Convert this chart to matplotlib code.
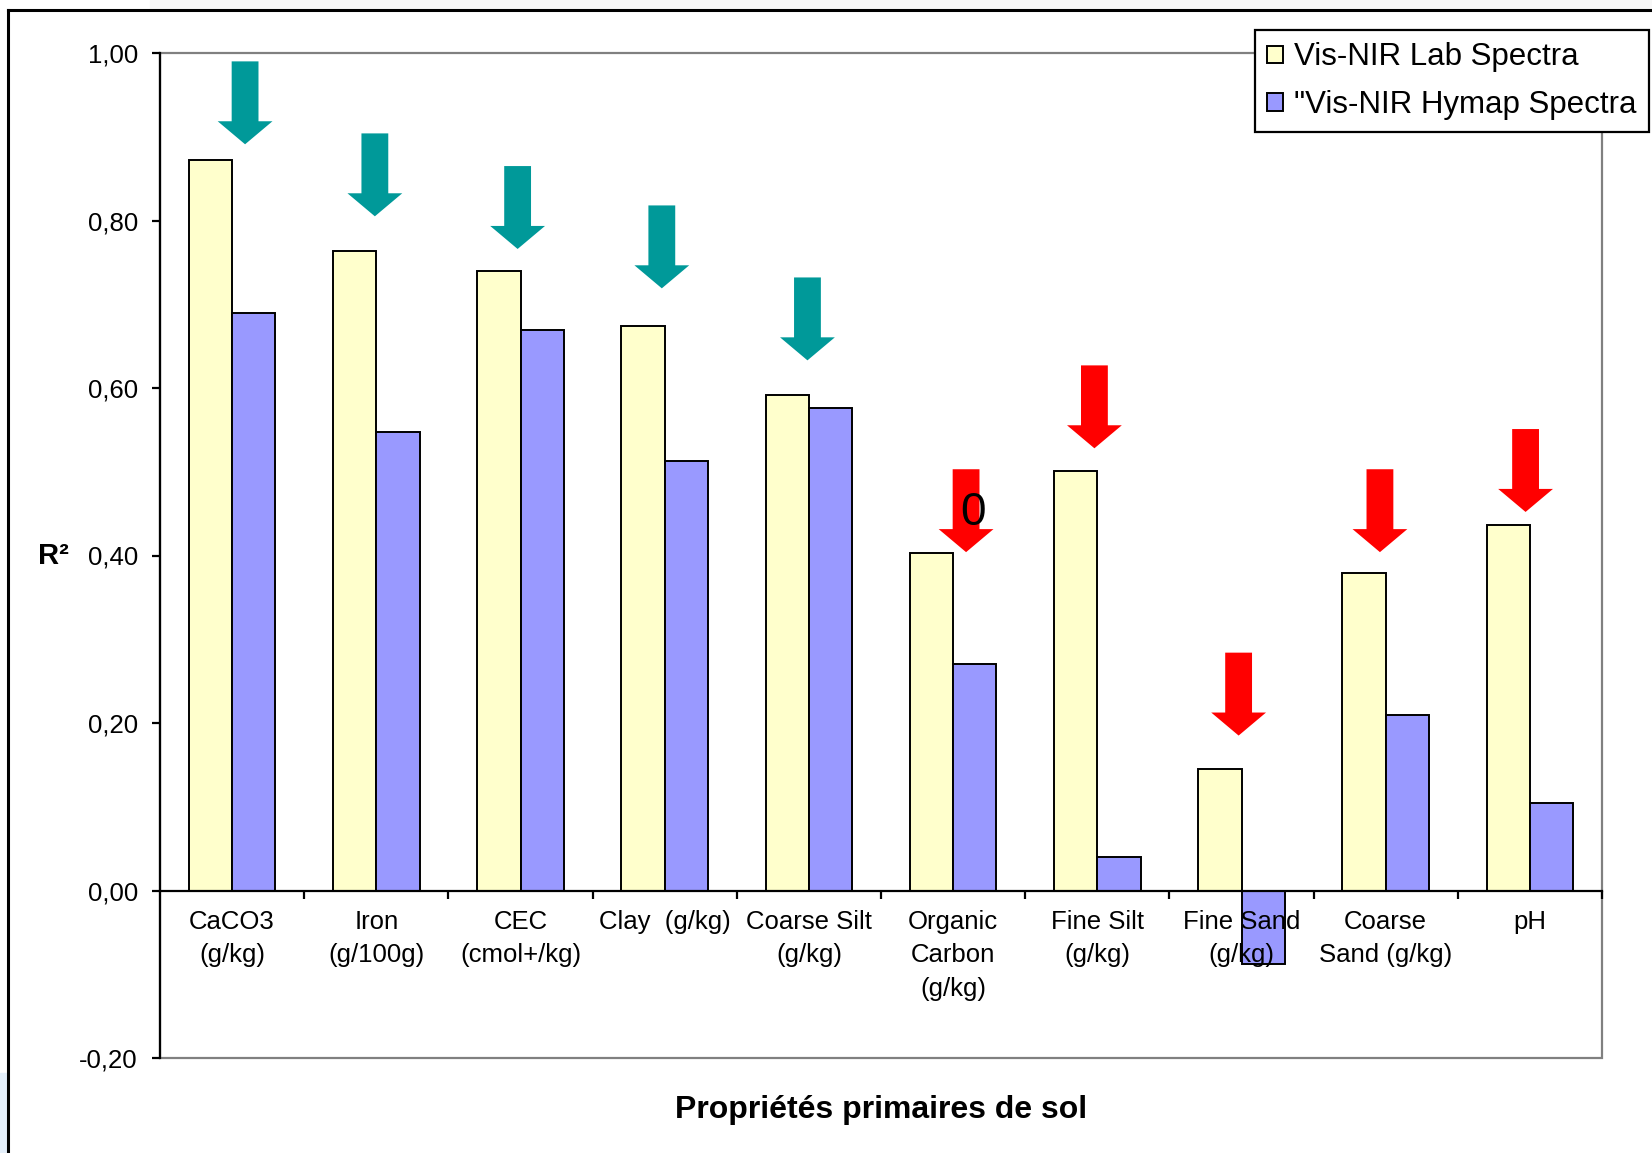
import matplotlib
matplotlib.use("Agg")
import matplotlib.pyplot as plt
from matplotlib.patches import Polygon, Rectangle
from matplotlib.lines import Line2D
from matplotlib.ticker import FuncFormatter
import numpy as np

plt.rcParams['font.family'] = ['Liberation Sans', 'DejaVu Sans']

# R² per soil property, lab spectra vs HyMap spectra
properties = ["CaCO3\n(g/kg)", "Iron\n(g/100g)", "CEC\n(cmol+/kg)", "Clay  (g/kg)",
              "Coarse Silt\n(g/kg)", "Organic\nCarbon\n(g/kg)", "Fine Silt\n(g/kg)",
              "Fine Sand\n(g/kg)", "Coarse\nSand (g/kg)", "pH"]
r2_lab = [0.872, 0.763, 0.740, 0.674, 0.592, 0.403, 0.501, 0.145, 0.379, 0.436]
r2_hymap = [0.690, 0.547, 0.669, 0.513, 0.576, 0.270, 0.040, -0.088, 0.210, 0.104]
series_names = ["Vis-NIR Lab Spectra", "\"Vis-NIR Hymap Spectra"]

# arrows: tip height (R²) and sideways shift from the category centre
arrow_tips = [0.891, 0.805, 0.766, 0.719, 0.633, 0.404, 0.528, 0.185, 0.404, 0.452]
arrow_shift = [0.09, -0.01, -0.02, -0.02, -0.01, 0.09, -0.02, -0.02, -0.04, -0.03]
arrow_colors = ["#009999"] * 5 + ["#FF0000"] * 5

y_ticks = [-0.2, 0.0, 0.2, 0.4, 0.6, 0.8, 1.0]


def arrow_shape(xc, tip, shaft=0.093, head=0.19, length=0.099, head_len=0.0275):
    top = tip + length
    neck = tip + head_len
    return [(xc - shaft, top), (xc + shaft, top), (xc + shaft, neck), (xc + head, neck),
            (xc, tip), (xc - head, neck), (xc - shaft, neck)]


fig = plt.figure(figsize=(16.52, 11.53), dpi=100)
ax = fig.add_axes([160 / 1652, 1 - 1058 / 1153, 1442 / 1652, 1005 / 1153])

# outer chart border and the grey strip above it
fig.patches.append(Rectangle((150 / 1652, 1 - 9 / 1153), 1, 9 / 1153,
                             transform=fig.transFigure, color="#f7f7f7", zorder=0))
fig.patches.append(Rectangle((0, 0), 7 / 1652, 80 / 1153,
                             transform=fig.transFigure, color="#e4effa", zorder=0))
fig.lines.append(Line2D([8 / 1652, 8 / 1652], [0, 1 - 10 / 1153],
                        transform=fig.transFigure, color="black", lw=2.2))
fig.lines.append(Line2D([8 / 1652, 1], [1 - 10 / 1153, 1 - 10 / 1153],
                        transform=fig.transFigure, color="black", lw=2.2))

x = np.arange(len(properties))
w = 0.3
ax.bar(x - w / 2, r2_lab, w, color="#FFFFCC", edgecolor="black", lw=1.4,
       label=series_names[0], zorder=1)
ax.bar(x + w / 2, r2_hymap, w, color="#9999FF", edgecolor="black", lw=1.4,
       label=series_names[1], zorder=1)

for i, (tip, dx, c) in enumerate(zip(arrow_tips, arrow_shift, arrow_colors)):
    ax.add_patch(Polygon(arrow_shape(i + dx, tip), closed=True, color=c, lw=0, zorder=3))

ax.text(5.138, 0.436, "0", fontsize=33, ha="center", va="baseline", zorder=4)

ax.set_xlim(-0.5, len(properties) - 0.5)
ax.set_ylim(-0.2, 1.0)

# grey plot-area frame, black value axis, category axis on zero
ax.add_patch(Rectangle((0, 0), 1, 1, transform=ax.transAxes, fill=False,
                       edgecolor="#808080", lw=1.6, zorder=0.5, clip_on=False))
for s in ["top", "right"]:
    ax.spines[s].set_visible(False)
ax.spines["left"].set_linewidth(1.6)
ax.spines["bottom"].set_position(("data", 0))
ax.spines["bottom"].set_linewidth(1.6)

ax.set_yticks(y_ticks)
ax.yaxis.set_major_formatter(FuncFormatter(lambda v, p: f"{v:.2f}".replace(".", ",")))
ax.tick_params(axis="y", direction="out", length=6, width=1.6, pad=10, labelsize=18.5)

ax.set_xticks(x + 0.5, minor=False)
ax.set_xticklabels([""] * len(x))
ax.set_xticks(x, minor=True)
ax.set_xticklabels(properties, minor=True, fontsize=18.5, linespacing=1.5, va="top")
ax.tick_params(axis="x", which="major", direction="out", length=6, width=1.6)
ax.tick_params(axis="x", which="minor", length=0, pad=14)

ax.set_ylabel("R²", rotation=0, fontsize=21, fontweight="bold", ha="center", va="center")
ax.yaxis.set_label_coords(-0.074, 0.5)
ax.set_xlabel("Propriétés primaires de sol", fontsize=23, fontweight="bold")
ax.xaxis.set_label_coords(0.5, -0.052)
ax.xaxis.label.set_va("center")

leg = ax.legend(loc="upper right", bbox_to_anchor=(1649 / 1652, 1 - 30 / 1153),
                bbox_transform=fig.transFigure, borderaxespad=0, fontsize=22.5,
                fancybox=False, framealpha=1, edgecolor="black", handlelength=0.5,
                handleheight=0.5, handletextpad=0.35, labelspacing=0.55, borderpad=0.4)
leg.get_frame().set_linewidth(1.6)
leg.set_zorder(5)

fig.savefig("out.png", dpi=100, facecolor="white")
